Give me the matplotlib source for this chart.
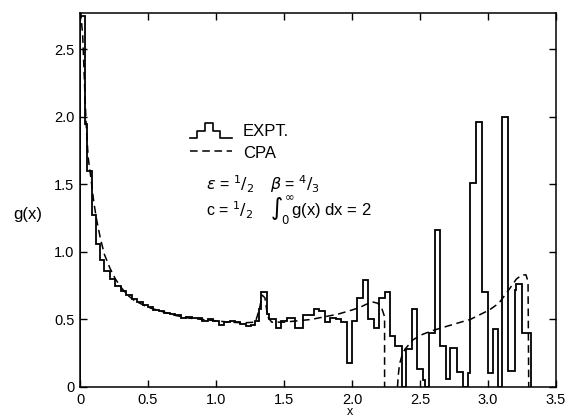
import numpy as np
import matplotlib
matplotlib.use("Agg")
import matplotlib.pyplot as plt
from matplotlib.legend_handler import HandlerBase
from matplotlib.lines import Line2D

plt.rcParams['font.family'] = ['Liberation Sans', 'DejaVu Sans']
plt.rcParams['mathtext.fontset'] = 'dejavusans'

expt_edges = [0.00, 0.035, 0.05, 0.09, 0.12, 0.145, 0.18, 0.22, 0.26, 0.30,
              0.34, 0.38, 0.42, 0.46, 0.50, 0.54, 0.58, 0.62, 0.66, 0.70,
              0.74, 0.78, 0.82, 0.86, 0.90, 0.94, 0.98, 1.02, 1.06, 1.10,
              1.14, 1.18, 1.22, 1.26, 1.29, 1.32, 1.33, 1.375, 1.39, 1.44,
              1.48, 1.52, 1.58, 1.64, 1.72, 1.76, 1.80, 1.84, 1.88, 1.92,
              1.96, 2.00, 2.04, 2.08, 2.12, 2.16, 2.20, 2.24, 2.28, 2.32,
              2.37, 2.40, 2.44, 2.48, 2.52, 2.54, 2.57, 2.61, 2.65, 2.69,
              2.72, 2.77, 2.82, 2.85, 2.87, 2.91, 2.96, 3.00, 3.04, 3.075,
              3.105, 3.15, 3.20, 3.21, 3.25, 3.32]
expt_vals = [2.75, 1.95, 1.60, 1.27, 1.06, 0.94, 0.86, 0.80, 0.75, 0.71,
             0.68, 0.65, 0.63, 0.61, 0.59, 0.57, 0.56, 0.55, 0.54, 0.53,
             0.51, 0.52, 0.51, 0.51, 0.49, 0.50, 0.49, 0.46, 0.48, 0.49,
             0.48, 0.47, 0.45, 0.46, 0.49, 0.58, 0.70, 0.54, 0.50, 0.44,
             0.49, 0.51, 0.44, 0.53, 0.58, 0.56, 0.48, 0.51, 0.50, 0.48,
             0.18, 0.49, 0.66, 0.79, 0.50, 0.44, 0.66, 0.70, 0.38, 0.30,
             0.00, 0.28, 0.58, 0.13, 0.05, 0.00, 0.40, 1.16, 0.30, 0.06,
             0.29, 0.11, 0.00, 0.10, 1.51, 1.96, 0.70, 0.10, 0.43, 0.00,
             2.00, 0.12, 0.72, 0.76, 0.40]

# CPA theory, two branches
cpa1_x = [0.0, 0.005, 0.02, 0.035, 0.045, 0.06, 0.08, 0.10, 0.12, 0.15,
          0.18, 0.22, 0.26, 0.30, 0.35, 0.40, 0.50, 0.60, 0.70, 0.80,
          0.90, 1.00, 1.10, 1.20, 1.29, 1.32, 1.34, 1.36, 1.38, 1.41,
          1.50, 1.60, 1.70, 1.80, 1.90, 2.00, 2.06, 2.10, 2.15, 2.19,
          2.22, 2.24, 2.24]
cpa1_y = [2.78, 2.78, 2.60, 2.20, 1.95, 1.70, 1.55, 1.38, 1.25, 1.10,
          0.98, 0.88, 0.80, 0.74, 0.68, 0.64, 0.59, 0.56, 0.53, 0.51,
          0.50, 0.49, 0.48, 0.475, 0.48, 0.58, 0.68, 0.66, 0.52, 0.48,
          0.48, 0.49, 0.50, 0.52, 0.54, 0.57, 0.59, 0.61, 0.63, 0.62,
          0.58, 0.52, 0.0]
cpa2_x = [2.335, 2.34, 2.35, 2.37, 2.39, 2.45, 2.52, 2.60, 2.70, 2.80,
          2.87, 2.95, 3.01, 3.08, 3.14, 3.21, 3.25, 3.28, 3.295, 3.30]
cpa2_y = [0.0, 0.08, 0.17, 0.24, 0.28, 0.35, 0.39, 0.42, 0.45, 0.48,
          0.50, 0.54, 0.57, 0.62, 0.70, 0.80, 0.83, 0.83, 0.78, 0.0]

xticks = [0, 0.5, 1.0, 1.5, 2.0, 2.5, 3.0, 3.5]
xticklabels = ["0", "0.5", "1.0", "1.5", "2.0", "2.5", "3.0", "3.5"]
yticks = [0, 0.5, 1.0, 1.5, 2.0, 2.5]
yticklabels = ["0", "0.5", "1.0", "1.5", "2.0", "2.5"]


class StepIcon(HandlerBase):
    # little histogram-shaped legend key
    def create_artists(self, legend, orig_handle, xdescent, ydescent,
                       width, height, fontsize, trans):
        xs = np.array([0, 0.17, 0.17, 0.36, 0.36, 0.55, 0.55, 0.72, 0.72, 1.0]) * width - xdescent
        ys = np.array([0, 0, 0.5, 0.5, 1.0, 1.0, 0.5, 0.5, 0, 0]) * height - ydescent
        ln = Line2D(xs, ys, color="black", lw=1.2)
        ln.set_transform(trans)
        return [ln]


fig = plt.figure(figsize=(5.69, 4.17), dpi=100)
ax = fig.add_axes([0.1406, 0.072, 0.8364, 0.897])

h_expt = ax.stairs(expt_vals, expt_edges, baseline=0, color="black", lw=1.3)
h_cpa, = ax.plot(cpa1_x, cpa1_y, color="black", lw=1.1, ls=(0, (5, 3)))
ax.plot(cpa2_x, cpa2_y, color="black", lw=1.1, ls=(0, (5, 3)))

ax.set_xlim(0, 3.5)
ax.set_ylim(0, 2.77)
ax.set_xticks(xticks)
ax.set_xticklabels(xticklabels)
ax.set_yticks(yticks)
ax.set_yticklabels(yticklabels)
ax.tick_params(direction="in", length=5, width=1, top=True, right=True,
               labelsize=10.5, pad=4)
for s in ax.spines.values():
    s.set_linewidth(1.1)

ax.set_ylabel("g(x)", rotation=0, fontsize=12)
ax.yaxis.set_label_coords(-0.11, 0.44)
ax.set_xlabel("x", fontsize=9)
ax.xaxis.set_label_coords(0.567, -0.052)

ax.legend([h_expt, h_cpa], ["EXPT.", "CPA"], handler_map={type(h_expt): StepIcon()},
          loc="upper left", bbox_to_anchor=(0.232, 0.705), frameon=False,
          fontsize=12, handlelength=2.5, handleheight=1.0, handletextpad=0.65,
          labelspacing=0.3, borderpad=0, borderaxespad=0)

ax.text(0.93, 1.50, r"$\epsilon$ = $^1/_2$", fontsize=11.5, va="center")
ax.text(1.40, 1.50, r"$\beta$ = $^4/_3$", fontsize=11.5, va="center")
ax.text(0.93, 1.31, r"c = $^1/_2$", fontsize=11.5, va="center")
ax.text(1.40, 1.31, r"$\int_0^{\infty}\!$g(x) dx = 2", fontsize=12, va="center")

fig.savefig("out.png", dpi=100)
